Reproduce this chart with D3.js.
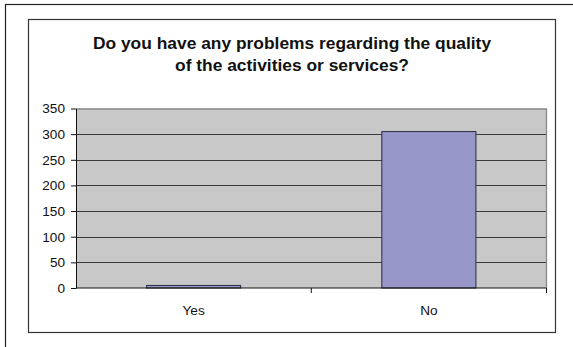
<!DOCTYPE html>
<html>
<head>
<meta charset="utf-8">
<script src="https://cdn.jsdelivr.net/npm/d3@7"></script>
<style>
	html, body { margin: 0; padding: 0; background: #fff; }
	svg { display: block; font-family: "Liberation Sans", Arial, sans-serif; }
</style>
</head>
<body>
<svg id="chart" width="573" height="347"></svg>
<script>
// Survey answers (count of respondents)
const categories = ["Yes", "No"];
const counts = [5, 305];
const yTicks = [0, 50, 100, 150, 200, 250, 300, 350];
const titleLines = [
	"Do you have any problems regarding the quality",
	"of the activities or services?"
];

const svg = d3.select("#chart");

// outer frame runs off the right and bottom of the picture
svg.append("rect")
	.attr("x", 5.5).attr("y", 4.5)
	.attr("width", 600).attr("height", 400)
	.attr("fill", "none").attr("stroke", "#222").attr("stroke-width", 1.2);

// chart box
svg.append("rect")
	.attr("x", 28.5).attr("y", 19.5)
	.attr("width", 527).attr("height", 313)
	.attr("fill", "#fff").attr("stroke", "#333").attr("stroke-width", 1.2);

const plot = { left: 76, right: 546.5, top: 108.5, bottom: 288 };

const x = d3.scaleBand()
	.domain(categories)
	.range([plot.left, plot.right])
	.paddingInner(0).paddingOuter(0);

const y = d3.scaleLinear()
	.domain([0, 350])
	.range([plot.bottom, plot.top]);

// title
svg.append("text")
	.attr("x", 292).attr("y", 48.5)
	.attr("text-anchor", "middle")
	.attr("font-size", 17.4).attr("font-weight", "bold").attr("fill", "#111")
	.selectAll("tspan")
	.data(titleLines)
	.join("tspan")
	.attr("x", 292)
	.attr("dy", (d, i) => i === 0 ? 0 : 22.5)
	.text(d => d);

// plot background
svg.append("rect")
	.attr("x", plot.left).attr("y", plot.top)
	.attr("width", plot.right - plot.left).attr("height", plot.bottom - plot.top)
	.attr("fill", "#c8c8c8");

// gridlines
svg.append("g")
	.selectAll("line")
	.data(yTicks.filter(d => d > 0 && d < 350))
	.join("line")
	.attr("x1", plot.left).attr("x2", plot.right)
	.attr("y1", d => Math.round(y(d)) + 0.5).attr("y2", d => Math.round(y(d)) + 0.5)
	.attr("stroke", "#3a3a3a").attr("stroke-width", 1);

// plot border top + right (gray)
svg.append("path")
	.attr("d", `M${plot.left},${plot.top + 0.5}H${plot.right}V${plot.bottom}`)
	.attr("fill", "none").attr("stroke", "#8c8c8c").attr("stroke-width", 1.3);

// bars: Excel gap width 150% -> bar is 40% of the band
const barW = x.bandwidth() * 0.4;
svg.append("g")
	.selectAll("rect")
	.data(categories.map((c, i) => ({ c, v: counts[i] })))
	.join("rect")
	.attr("x", d => x(d.c) + (x.bandwidth() - barW) / 2)
	.attr("y", d => y(d.v))
	.attr("width", barW)
	.attr("height", d => plot.bottom - y(d.v))
	.attr("fill", "#9797ca")
	.attr("stroke", "#2a2a40").attr("stroke-width", 1);

// y axis
const yAxis = svg.append("g")
	.attr("transform", `translate(${plot.left},0)`)
	.call(d3.axisLeft(y).tickValues(yTicks).tickSize(5).tickPadding(6).tickSizeOuter(0));
yAxis.attr("font-family", "inherit").attr("font-size", 13.6);
yAxis.select(".domain").attr("stroke", "#111");
yAxis.selectAll(".tick line").attr("stroke", "#111");
yAxis.selectAll(".tick text").attr("fill", "#111");

// x axis: ticks at band edges, labels at band centres
const xAxisG = svg.append("g")
	.attr("transform", `translate(0,${plot.bottom})`);
xAxisG.append("line")
	.attr("x1", plot.left).attr("x2", plot.right)
	.attr("stroke", "#111");
xAxisG.selectAll("line.tk")
	.data(categories)
	.join("line")
	.attr("class", "tk")
	.attr("x1", d => x(d) + x.bandwidth()).attr("x2", d => x(d) + x.bandwidth())
	.attr("y1", 0).attr("y2", 5)
	.attr("stroke", "#111");
xAxisG.selectAll("text")
	.data(categories)
	.join("text")
	.attr("x", d => x(d) + x.bandwidth() / 2)
	.attr("y", 27)
	.attr("text-anchor", "middle")
	.attr("font-size", 13.6).attr("fill", "#111")
	.text(d => d);
</script>
</body>
</html>
